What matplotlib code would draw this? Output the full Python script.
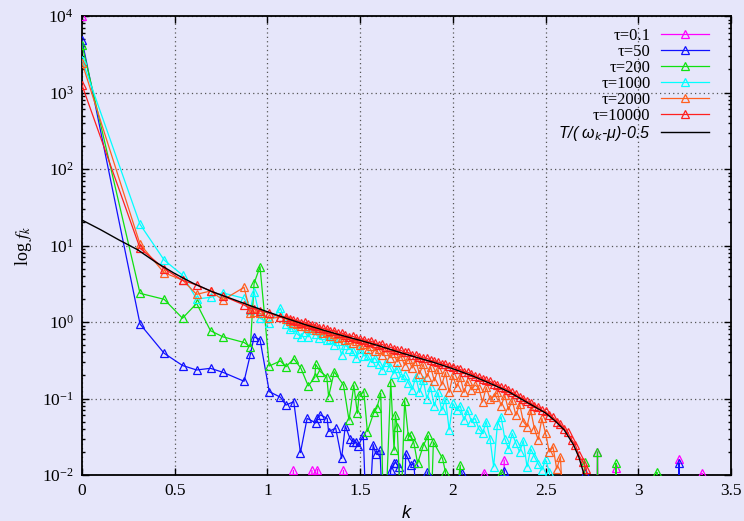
import numpy as np
import matplotlib
matplotlib.use('Agg')
import matplotlib.pyplot as plt
from matplotlib.ticker import FixedLocator, LogFormatterMathtext, FuncFormatter, NullFormatter
from matplotlib.font_manager import FontProperties

plt.rcParams['font.family'] = ['Liberation Serif', 'DejaVu Serif']
plt.rcParams['mathtext.fontset'] = 'stix'

nan = np.nan
TINY = 1e-5

# ---------------- data ----------------
labels = ['τ=0.1', 'τ=50', 'τ=200', 'τ=1000', 'τ=2000', 'τ=10000']
colors = ['#ff00ff', '#1010ff', '#10e010', '#00ffff', '#ff6020', '#ff2020']

# tau = 0.1
k_m = [0.0, 0.313, 1.12, 1.14, 1.16, 1.22, 1.24, 1.255, 1.27, 1.285, 1.39, 1.41, 1.43,
       2.15, 2.17, 2.19, 2.26, 2.277, 2.29, 2.76, 2.78, 2.80, 2.87, 2.88, 2.89,
       3.21, 3.22, 3.23, 3.33, 3.344, 3.355]
f_m = [10000, nan, TINY, 0.0115, TINY, TINY, 0.0115, TINY, 0.0118, TINY, TINY, 0.0115, TINY,
       TINY, 0.0107, TINY, TINY, 0.0157, TINY, TINY, 0.020, TINY, TINY, 0.0122, TINY,
       TINY, 0.016, TINY, TINY, 0.0105, TINY]

# tau = 50
k_b = [0.0, 0.313, 0.443, 0.542, 0.618, 0.693, 0.760, 0.874, 0.908, 0.928, 0.960, 1.010, 1.070,
       1.10, 1.142, 1.178, 1.214, 1.26, 1.27, 1.286, 1.322, 1.33, 1.368, 1.40, 1.42, 1.445,
       1.46, 1.48, 1.49, 1.517, 1.539, 1.57, 1.584, 1.607, 1.63, 1.665, 1.683, 1.692, 1.71,
       1.73, 1.746, 1.773, 1.79, 1.82, 1.863, 1.90, 2.03, 2.05, 2.07, 2.26, 2.277, 2.30,
       2.70, 2.71, 2.73, 3.21, 3.22, 3.23]
f_b = [4850, 0.94, 0.39, 0.27, 0.236, 0.248, 0.22, 0.168, 0.378, 0.64, 0.59, 0.123, 0.104,
       0.082, 0.091, 0.0196, 0.055, 0.048, 0.055, 0.061, 0.055, 0.037, 0.041, 0.0165, 0.044, 0.030,
       0.027, 0.027, 0.024, 0.033, 0.001, 0.025, 0.019, 0.021, 0.001, 0.0116, 0.0142, 0.0145, 0.0128,
       0.001, 0.019, 0.0135, 0.0142, 0.001, 0.011, 0.001, TINY, 0.0107, TINY, TINY, 0.0114, TINY,
       TINY, 0.0105, TINY, TINY, 0.0143, TINY]

# tau = 200
k_g = [0.0, 0.313, 0.443, 0.542, 0.618, 0.693, 0.760, 0.874, 0.908, 0.928, 0.960, 1.010, 1.070,
       1.10, 1.142, 1.18, 1.22, 1.256, 1.26, 1.286, 1.32, 1.33, 1.36, 1.41, 1.44, 1.466, 1.485,
       1.494, 1.52, 1.539, 1.575, 1.59, 1.611, 1.63, 1.665, 1.683, 1.69, 1.70, 1.72, 1.74, 1.76,
       1.773, 1.79, 1.81, 1.84, 1.867, 1.88, 1.895, 1.944, 1.96, 1.98, 2.04, 2.06, 2.25, 2.26,
       2.27, 2.70, 2.71, 2.72, 2.77, 2.78, 2.79, 2.87, 2.88, 2.89, 3.09, 3.10, 3.11]
f_g = [4200, 2.37, 1.98, 1.12, 1.75, 0.77, 0.64, 0.54, 0.475, 3.2, 5.3, 0.266, 0.31,
       0.26, 0.33, 0.25, 0.146, 0.19, 0.28, 0.224, 0.193, 0.106, 0.224, 0.15, 0.052, 0.15, 0.064,
       0.111, 0.123, 0.037, 0.067, 0.075, 0.117, 0.001, 0.166, 0.021, 0.061, 0.043, 0.003, 0.094, 0.032,
       0.033, 0.026, 0.0142, 0.024, 0.033, 0.002, 0.027, 0.0165, 0.011, 0.001, 0.0135, TINY, TINY, 0.0107,
       TINY, TINY, 0.015, TINY, TINY, 0.020, TINY, TINY, 0.0143, TINY, TINY, 0.0109, TINY]

# shared momenta for the three late-time runs
k_low = [0.0, 0.313, 0.443, 0.542, 0.618, 0.693, 0.760, 0.874, 0.908, 0.928, 0.960, 1.010, 1.070]
k_dense = [1.10, 1.12, 1.14, 1.16, 1.18, 1.20, 1.22, 1.24, 1.26, 1.28, 1.30, 1.32, 1.34, 1.36,
           1.38, 1.40, 1.42, 1.44, 1.46, 1.48, 1.50, 1.52, 1.54, 1.56, 1.58, 1.60, 1.62, 1.64,
           1.66, 1.68, 1.70, 1.72, 1.74, 1.76, 1.78, 1.80, 1.82, 1.84, 1.86, 1.88, 1.90, 1.92,
           1.94, 1.96, 1.98, 2.00, 2.02, 2.04, 2.06, 2.08, 2.10, 2.12, 2.14, 2.16, 2.18, 2.20,
           2.22, 2.24, 2.26, 2.28, 2.30, 2.32, 2.34, 2.36, 2.38, 2.40, 2.42, 2.44, 2.46, 2.48,
           2.50, 2.52, 2.54, 2.56, 2.58, 2.60, 2.62, 2.64, 2.66, 2.68, 2.70, 2.72, 2.74]

# tau = 1000
f_c_low = [2700, 18.9, 6.46, 4.1, 2.0, 2.1, 2.4, 2.04, 1.44, 2.49, 1.12, 0.96, 1.51]
f_c_dense = [0.95, 0.80, 0.85, 0.70, 0.64, 0.75, 0.64, 0.78, 0.70, 0.62, 0.68, 0.58, 0.60, 0.50,
             0.56, 0.37, 0.50, 0.45, 0.42, 0.335, 0.45, 0.36, 0.37, 0.30, 0.34, 0.28, 0.236, 0.30,
             0.256, 0.21, 0.25, 0.19, 0.20, 0.16, 0.13, 0.19, 0.12, 0.175, 0.10, 0.14, 0.08, 0.12,
             0.07, 0.10, 0.039, 0.0865, 0.07, 0.08, 0.052, 0.07, 0.05, 0.055, 0.04, 0.035, 0.05, 0.03,
             0.0128, 0.045, 0.058, 0.03, 0.022, 0.035, 0.026, 0.02, 0.028, 0.0128, 0.022, 0.0173, 0.014, 0.0116,
             0.016, 0.011, 0.004, TINY, TINY, TINY, TINY, TINY, TINY, TINY, TINY, TINY, TINY]

# tau = 2000
f_o_low = [2450, 10.4, 4.4, 3.54, 2.3, 2.54, 1.94, 2.84, 1.3, 1.35, 1.3, 1.12, 1.15]
f_o_dense = [1.10, 1.02, 0.98, 0.95, 0.90, 0.90, 0.84, 0.84, 0.78, 0.78, 0.72, 0.73, 0.66, 0.70,
             0.62, 0.64, 0.58, 0.60, 0.53, 0.56, 0.50, 0.52, 0.45, 0.48, 0.42, 0.45, 0.37, 0.42,
             0.34, 0.39, 0.30, 0.36, 0.27, 0.33, 0.25, 0.31, 0.21, 0.28, 0.19, 0.26, 0.17, 0.24,
             0.15, 0.22, 0.12, 0.20, 0.14, 0.19, 0.12, 0.17, 0.13, 0.15, 0.137, 0.09, 0.14, 0.10,
             0.106, 0.12, 0.08, 0.11, 0.071, 0.095, 0.06, 0.085, 0.05, 0.043, 0.07, 0.04, 0.029, 0.055,
             0.035, 0.02, 0.0234, 0.012, 0.0173, 0.002, TINY, TINY, TINY, TINY, TINY, TINY, TINY]

# tau = 10000
f_r_low = [1250, 9.2, 5.0, 3.5, 3.05, 2.55, 2.19, 1.67, 1.5, 1.5, 1.4, 1.3, 1.15]
f_r_dense = [1.18, 1.10, 1.06, 1.04, 0.98, 1.00, 0.93, 0.92, 0.90, 0.84, 0.83, 0.80, 0.77, 0.77,
             0.71, 0.72, 0.68, 0.64, 0.65, 0.62, 0.60, 0.59, 0.55, 0.56, 0.53, 0.50, 0.51, 0.47,
             0.47, 0.45, 0.43, 0.425, 0.40, 0.40, 0.37, 0.37, 0.35, 0.34, 0.335, 0.315, 0.31, 0.30,
             0.285, 0.28, 0.265, 0.26, 0.245, 0.24, 0.225, 0.22, 0.21, 0.198, 0.19, 0.182, 0.172, 0.168,
             0.155, 0.152, 0.14, 0.136, 0.128, 0.12, 0.114, 0.104, 0.10, 0.092, 0.088, 0.08, 0.078, 0.07,
             0.068, 0.06, 0.057, 0.05, 0.046, 0.040, 0.036, 0.029, 0.025, 0.018, 0.015, 0.012, 0.003]

# theory curve T/(omega_k - mu) - 0.5
k_th = [0.0, 0.1, 0.2, 0.3, 0.4, 0.5, 0.6, 0.7, 0.8, 0.9, 1.0, 1.1, 1.2, 1.3, 1.4, 1.5, 1.6,
        1.7, 1.8, 1.9, 2.0, 2.1, 2.2, 2.3, 2.4, 2.5, 2.55, 2.6, 2.65, 2.68, 2.70, 2.72, 2.73]
f_th = [21.5, 16.1, 11.8, 8.8, 6.0, 4.3, 3.2, 2.5, 2.04, 1.66, 1.36, 1.12, 0.93, 0.785, 0.668,
        0.575, 0.49, 0.41, 0.347, 0.295, 0.245, 0.2, 0.158, 0.123, 0.089, 0.0646, 0.0513, 0.039,
        0.025, 0.017, 0.0117, 0.0079, 0.006]

xticks = [0, 0.5, 1, 1.5, 2, 2.5, 3, 3.5]
yticks = [1e-2, 1e-1, 1e0, 1e1, 1e2, 1e3, 1e4]
yminor = [m * d for d in [1e-2, 1e-1, 1e0, 1e1, 1e2, 1e3] for m in range(2, 10)]

# ---------------- figure ----------------
bg = '#e6e6fa'
fig = plt.figure(figsize=(7.44, 5.21), dpi=100, facecolor=bg)
ax = fig.add_axes([82/744, 1-475/521, (731-82)/744, (475-16)/521], facecolor=bg)

series = [
    (k_m, f_m),
    (k_b, f_b),
    (k_g, f_g),
    (k_low + k_dense, f_c_low + f_c_dense),
    (k_low + k_dense, f_o_low + f_o_dense),
    (k_low + k_dense, f_r_low + f_r_dense),
]
for (kk, ff), lab, col in zip(series, labels, colors):
    ax.plot(kk, ff, color=col, lw=0.9, marker='^', ms=6, mfc='none', mec=col, mew=0.9,
            label=lab, zorder=3)
ax.plot(k_th, f_th, color='black', lw=1.0, label='T/( ω$_k$-μ)-0.5', zorder=4)

ax.set_yscale('log')
ax.set_xlim(0, 3.5)
ax.set_ylim(1e-2, 1e4)

ax.xaxis.set_major_locator(FixedLocator(xticks))
ax.xaxis.set_major_formatter(FuncFormatter(lambda v, p: '%g' % v))
ax.yaxis.set_major_locator(FixedLocator(yticks))
ax.yaxis.set_minor_locator(FixedLocator(yminor))
ax.yaxis.set_major_formatter(LogFormatterMathtext())
ax.yaxis.set_minor_formatter(NullFormatter())

ax.tick_params(which='both', direction='in', top=True, right=True, colors='black',
               labelsize=12.5, width=1.0)
ax.tick_params(which='major', length=5, pad=6)
ax.tick_params(which='minor', length=2.5)
for sp in ax.spines.values():
    sp.set_linewidth(1.3)
    sp.set_color('black')

ax.grid(True, which='major', color='#555555', linestyle=(0, (1, 2.5)), linewidth=0.9, zorder=1)
ax.set_axisbelow(True)

ax.set_xlabel('k', fontsize=13, family='Liberation Sans', style='italic', labelpad=4)
ax.set_ylabel('log $f_k$', fontsize=13, labelpad=6)

leg = ax.legend(loc='upper right', bbox_to_anchor=(0.971, 0.982), frameon=False,
                markerfirst=False, fontsize=12, handlelength=2.9, handletextpad=0.6,
                labelspacing=0.0, borderpad=0.2, borderaxespad=0.0, numpoints=1)
lt = leg.get_texts()[-1]
lt.set_fontproperties(FontProperties(family='Liberation Sans', style='italic', size=11.5,
                                     math_fontfamily='dejavusans'))

fig.savefig('out.png', dpi=100, facecolor=bg)
